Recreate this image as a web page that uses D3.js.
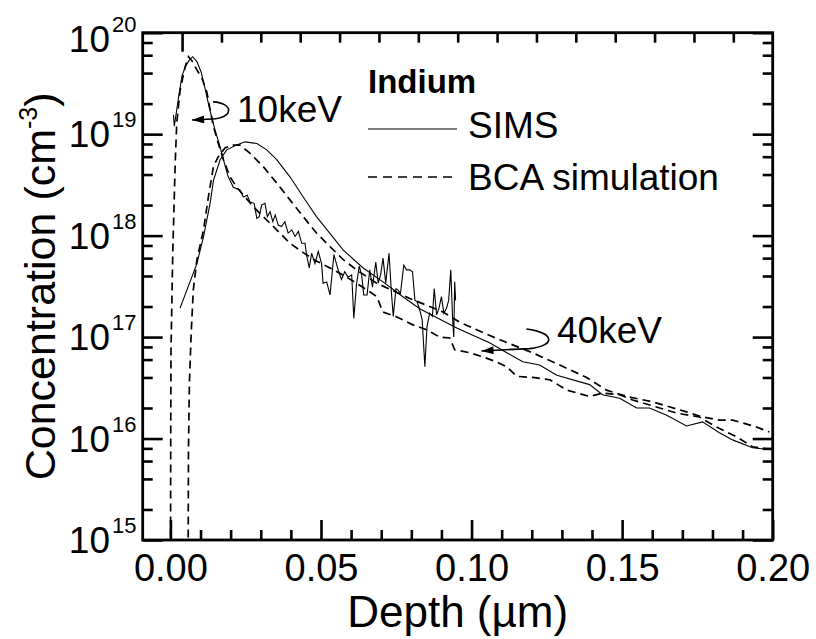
<!DOCTYPE html>
<html><head><meta charset="utf-8">
<script src="https://cdn.jsdelivr.net/npm/d3@7"></script>
<style>
body{margin:0;background:#fff}
text{font-family:"Liberation Sans",Arial,Helvetica,sans-serif;fill:#000}
</style>
</head><body>
<svg id="chart" width="816" height="639"></svg>
<script>
// Indium depth profiles: [depth (µm), concentration (cm^-3)]
const sims10keV = [
  [0.0010,1.55e19],[0.0013,1.2e19],[0.0027,2.3e19],[0.0038,3.7e19],[0.0049,4.6e19],
  [0.0063,5.4e19],[0.0074,5.8e19],[0.0088,5.2e19],[0.0102,4.1e19],[0.0112,3.1e19],
  [0.0123,2.2e19],[0.0134,1.6e19],[0.0148,1.1e19],[0.0165,7.5e18],[0.0179,5.2e18],
  [0.0192,3.8e18],[0.0209,3.0e18],[0.0232,2.8e18],[0.0242,2.4e18],[0.0255,2.5e18],
  [0.0264,2.16e18],[0.0278,2.08e18],[0.0287,1.48e18],[0.0295,1.54e18],[0.0303,2.0e18],
  [0.0314,2.08e18],[0.0322,1.54e18],[0.0331,1.72e18],[0.0340,1.37e18],[0.0348,1.6e18],
  [0.0358,1.27e18],[0.0369,1.23e18],[0.0380,1.37e18],[0.0391,1.06e18],[0.0403,1.14e18],
  [0.0414,9.8e17],[0.0425,1.1e18],[0.0436,8.4e17],[0.0447,8.4e17],[0.0452,6.5e17],
  [0.0461,4.8e17],[0.0469,6.7e17],[0.0480,5.3e17],[0.0491,7.0e17],[0.0502,5.3e17],
  [0.0507,3.4e17],[0.0519,3.5e17],[0.0530,2.6e17],[0.0543,6.5e17],[0.0557,4.6e17],
  [0.0568,3.7e17],[0.0579,4.4e17],[0.0590,3.9e17],[0.0602,4.1e17],[0.0609,1.53e17],
  [0.0618,3.3e17],[0.0627,5.0e17],[0.0635,4.1e17],[0.0642,2.6e17],[0.0653,2.6e17],
  [0.0662,4.6e17],[0.0671,3.1e17],[0.0682,5.5e17],[0.0690,3.4e17],[0.0698,4.1e17],
  [0.0706,6.0e17],[0.0715,3.4e17],[0.0726,6.7e17],[0.0734,2.7e17],[0.0740,1.6e17],
  [0.0749,3.0e17],[0.0756,2.9e17],[0.0764,2.7e17],[0.0775,5.1e17],[0.0784,4.6e17],
  [0.0795,4.6e17],[0.0804,4.4e17],[0.0812,2.3e17],[0.0819,2.24e17],[0.0828,1.85e17],
  [0.0836,1.48e17],[0.0845,5.1e16],[0.0852,1.27e17],[0.0861,1.72e17],[0.0870,1.6e17],
  [0.0876,3.0e17],[0.0884,1.66e17],[0.0892,1.93e17],[0.0900,2.5e17],[0.0908,1.72e17],
  [0.0917,1.93e17],[0.0924,2.3e17],[0.0931,4.6e17],[0.0937,1.53e17],[0.0941,1.0e17],
  [0.0944,3.5e17],[0.0947,2.3e17]
];
const bca10keV = [
  [0.0000,1e14],[0.0001,1e16],[0.0002,7.5e16],[0.0005,2.3e17],[0.0008,7.2e17],
  [0.0016,5.2e18],[0.0021,1.28e19],[0.0032,2.7e19],[0.0049,4.6e19],[0.0060,5.8e19],
  [0.0071,5.3e19],[0.0088,4.3e19],[0.0104,3.6e19],[0.0121,2.6e19],[0.0132,1.73e19],
  [0.0143,1.19e19],[0.0159,8.1e18],[0.0176,5.6e18],[0.0198,3.8e18],[0.0220,3.0e18],
  [0.0248,2.4e18],[0.0275,1.93e18],[0.0308,1.54e18],[0.0353,1.14e18],[0.0397,8.4e17],
  [0.0441,6.8e17],[0.0486,5.6e17],[0.0530,4.8e17],[0.0573,4.1e17],[0.0639,3.1e17],
  [0.0686,2.5e17],[0.0705,1.77e17],[0.0752,1.58e17],[0.0805,1.32e17],[0.0851,1.18e17],
  [0.0894,1.0e17],[0.0928,9.8e16],[0.0944,7.5e16],[0.0994,7.0e16],[0.1037,6.4e16],
  [0.1083,5.7e16],[0.1117,5.1e16],[0.1150,4.1e16],[0.1203,4.0e16],[0.1260,3.8e16],
  [0.1316,3.0e16],[0.1392,2.6e16],[0.1435,2.8e16],[0.1492,2.7e16],[0.1535,2.4e16],
  [0.1601,2.1e16],[0.1681,1.78e16],[0.1757,1.63e16],[0.1813,1.3e16],[0.1880,1.04e16],
  [0.1933,8.3e15],[0.1996,7.8e15]
];
const sims40keV = [
  [0.0032,1.93e17],[0.0088,5.3e17],[0.0110,9.8e17],[0.0132,2.1e18],[0.0143,3.5e18],
  [0.0165,5.6e18],[0.0187,7.0e18],[0.0220,7.8e18],[0.0248,8.4e18],[0.0287,8.1e18],
  [0.0320,7.0e18],[0.0353,5.6e18],[0.0397,3.8e18],[0.0441,2.4e18],[0.0485,1.54e18],
  [0.0529,1.06e18],[0.0574,7.2e17],[0.0640,4.8e17],[0.0706,3.5e17],[0.0772,2.5e17],
  [0.0828,1.9e17],[0.0885,1.55e17],[0.0951,1.23e17],[0.1017,1.0e17],[0.1060,8.8e16],
  [0.1117,7.0e16],[0.1170,5.7e16],[0.1226,5.3e16],[0.1283,4.2e16],[0.1392,3.4e16],
  [0.1435,2.7e16],[0.1492,2.5e16],[0.1548,2.0e16],[0.1591,2.0e16],[0.1648,1.7e16],
  [0.1714,1.33e16],[0.1767,1.46e16],[0.1823,1.14e16],[0.1867,9.7e15],[0.1933,8.1e15],
  [0.1990,7.8e15]
];
const bca40keV = [
  [0.0058,1e14],[0.0060,7.7e15],[0.0063,3.5e16],[0.0069,1.09e17],[0.0076,2.9e17],
  [0.0088,5.8e17],[0.0110,1.14e18],[0.0126,2.4e18],[0.0143,4.8e18],[0.0159,6.0e18],
  [0.0181,7.3e18],[0.0204,7.8e18],[0.0231,7.8e18],[0.0264,6.5e18],[0.0308,4.8e18],
  [0.0353,3.3e18],[0.0397,2.25e18],[0.0441,1.54e18],[0.0485,1.06e18],[0.0530,7.8e17],
  [0.0574,5.8e17],[0.0618,4.6e17],[0.0685,3.4e17],[0.0795,2.4e17],[0.0905,1.77e17],
  [0.0961,1.4e17],[0.1017,1.18e17],[0.1094,9.4e16],[0.1203,7.0e16],[0.1293,5.3e16],
  [0.1382,4.0e16],[0.1448,3.0e16],[0.1515,2.6e16],[0.1601,2.3e16],[0.1714,1.83e16],
  [0.1767,1.63e16],[0.1823,1.52e16],[0.1867,1.52e16],[0.1946,1.3e16],[0.1989,1.16e16]
];

// Curved arrows pointing from each energy label to its profiles: start, two control points, bend, tip
const arrow10keV = [[0.01416,2.08e19],[0.0211,2.03e19],[0.0211,1.44e19],[0.0138,1.41e19],[0.0072,1.38e19]];
const arrow40keV = [[0.1182,1.2e17],[0.1279,1.1e17],[0.1279,8.2e16],[0.1193,7.7e16],[0.1033,7.3e16]];

const xMajorTicks = [0, 0.05, 0.10, 0.15, 0.20];
const xMinorTicks = d3.range(1, 20).filter(i => i % 5 !== 0).map(i => i / 100);
const yExponents = [15, 16, 17, 18, 19, 20];
const yMinorFactors = [2, 4, 6, 8];
const legendTitle = "Indium";
const seriesLabels = ["SIMS", "BCA simulation"];
const energyLabels = ["10keV", "40keV"];
const xTitle = "Depth (\u00b5m)";
const yTitle = "Concentration (cm";

const svg = d3.select("#chart");
const L = 142.7, R = 772.7, T = 32.7, B = 540;
const x = d3.scaleLinear().domain([-0.0092, 0.2]).range([L, R]);
const y = d3.scaleLog().domain([1e15, 1e20]).range([B, T]);
// Top frame carries 16 evenly spaced divisions
const xTop = d3.scaleLinear().domain([0, 16]).range([L, R]);

const yMajor = yExponents.map(e => Math.pow(10, e));
const yMinor = [];
yExponents.slice(0, -1).forEach(e => yMinorFactors.forEach(f => yMinor.push(f * Math.pow(10, e))));

svg.append("clipPath").attr("id", "plotClip")
  .append("rect").attr("x", L).attr("y", T).attr("width", R - L).attr("height", B - T);

const tickStyle = g => {
  g.select(".domain").remove();
  g.selectAll(".tick line").attr("stroke", "#000").attr("stroke-width", 2.6);
};

// bottom axis
svg.append("g").attr("transform", `translate(0,${B})`)
  .call(d3.axisBottom(x).tickValues(xMajorTicks).tickSize(-20).tickPadding(14)
    .tickFormat(d3.format(".2f")))
  .call(tickStyle)
  .call(g => g.selectAll("text").attr("font-size", 38).attr("font-family", "Liberation Sans, Arial, sans-serif"));
svg.append("g").attr("transform", `translate(0,${B})`)
  .call(d3.axisBottom(x).tickValues(xMinorTicks).tickSize(-10).tickFormat(""))
  .call(tickStyle);

// top axis
svg.append("g").attr("transform", `translate(0,${T})`)
  .call(d3.axisTop(xTop).tickValues([1]).tickSize(-19).tickFormat(""))
  .call(tickStyle);
svg.append("g").attr("transform", `translate(0,${T})`)
  .call(d3.axisTop(xTop).tickValues(d3.range(2, 16)).tickSize(-10).tickFormat(""))
  .call(tickStyle);

// left and right axes
[[L, d3.axisLeft], [R, d3.axisRight]].forEach(([pos, ax]) => {
  svg.append("g").attr("transform", `translate(${pos},0)`)
    .call(ax(y).tickValues(yMajor).tickSize(-20).tickFormat(""))
    .call(tickStyle);
  svg.append("g").attr("transform", `translate(${pos},0)`)
    .call(ax(y).tickValues(yMinor).tickSize(-10).tickFormat(""))
    .call(tickStyle);
});

// frame
svg.append("rect").attr("x", L).attr("y", T).attr("width", R - L).attr("height", B - T)
  .attr("fill", "none").attr("stroke", "#000").attr("stroke-width", 2.8);

// y tick labels as 10 with superscript exponent
const yLab = svg.append("g");
yExponents.forEach(e => {
  const ty = y(Math.pow(10, e));
  const base = Math.max(ty + 13, 52);
  yLab.append("text").attr("x", 110).attr("y", base).attr("text-anchor", "end")
    .attr("font-size", 37).text("10");
  yLab.append("text").attr("x", 112).attr("y", base - 20).attr("font-size", 22).text(e);
});

// axis titles
svg.append("text").attr("x", (L + R) / 2).attr("y", 627).attr("text-anchor", "middle")
  .attr("font-size", 44).text(xTitle);
const yt = svg.append("text").attr("transform", `translate(55,${(T + B) / 2}) rotate(-90)`)
  .attr("text-anchor", "middle").attr("font-size", 43);
yt.append("tspan").text(yTitle);
yt.append("tspan").attr("font-size", 25).attr("dy", -18).text("-3");
yt.append("tspan").attr("dy", 18).text(")");

// profiles
const line = d3.line().x(d => x(d[0])).y(d => y(d[1]));
const plot = svg.append("g").attr("clip-path", "url(#plotClip)");
[[bca10keV, true], [bca40keV, true], [sims40keV, false], [sims10keV, false]].forEach(([data, dashed]) => {
  plot.append("path").datum(data).attr("d", line).attr("fill", "none")
    .attr("stroke", "#000")
    .attr("stroke-width", dashed ? 1.7 : 1.1)
    .attr("stroke-dasharray", dashed ? "8,5" : null);
});

// arrowhead marker
svg.append("defs").append("marker").attr("id", "head")
  .attr("viewBox", "0 0 12 8").attr("refX", 12).attr("refY", 4)
  .attr("markerUnits", "userSpaceOnUse").attr("markerWidth", 14).attr("markerHeight", 8)
  .attr("orient", "auto")
  .append("path").attr("d", "M0,0 L12,4 L0,8 Z").attr("fill", "#000");

[arrow10keV, arrow40keV].forEach(a => {
  const p = a.map(d => [x(d[0]), y(d[1])]);
  const path = d3.path();
  path.moveTo(p[0][0], p[0][1]);
  path.bezierCurveTo(p[1][0], p[1][1], p[2][0], p[2][1], p[3][0], p[3][1]);
  path.lineTo(p[4][0], p[4][1]);
  svg.append("path").attr("d", path.toString()).attr("fill", "none")
    .attr("stroke", "#000").attr("stroke-width", 1.6).attr("marker-end", "url(#head)");
});

svg.append("text").attr("x", 237).attr("y", 122).attr("font-size", 37).text(energyLabels[0]);
svg.append("text").attr("x", 557).attr("y", 343).attr("font-size", 37).text(energyLabels[1]);

// legend
const lg = svg.append("g");
lg.append("text").attr("x", 368).attr("y", 93).attr("font-size", 33).attr("font-weight", "bold").text(legendTitle);
lg.append("line").attr("x1", 368).attr("x2", 457).attr("y1", 129).attr("y2", 129)
  .attr("stroke", "#000").attr("stroke-width", 1.2);
lg.append("line").attr("x1", 368).attr("x2", 457).attr("y1", 177).attr("y2", 177)
  .attr("stroke", "#000").attr("stroke-width", 1.4).attr("stroke-dasharray", "9,6");
lg.append("text").attr("x", 468).attr("y", 138).attr("font-size", 37).text(seriesLabels[0]);
lg.append("text").attr("x", 468).attr("y", 190).attr("font-size", 37).text(seriesLabels[1]);
</script>
</body></html>
